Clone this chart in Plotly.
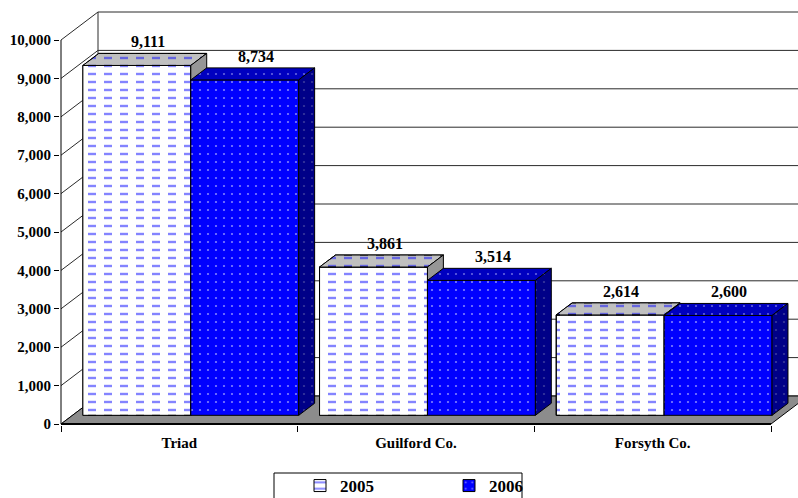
import plotly.graph_objects as go

# ---------------- data ----------------
categories = ["Triad", "Guilford Co.", "Forsyth Co."]
series_names = ["2005", "2006"]
values_2005 = [9111, 3861, 2614]
values_2006 = [8734, 3514, 2600]
y_tick_values = list(range(0, 10001, 1000))
y_tick_labels = [f"{v:,}" for v in y_tick_values]

# ---------------- geometry / style ----------------
FIG_W, FIG_H = 798, 498
M_L, M_R, M_T, M_B = 60, 0, 6, 73
PLOT_W = FIG_W - M_L - M_R
PLOT_H = FIG_H - M_T - M_B
PX_PER_CAT = 236.67
PX_PER_VAL = 0.0384
X_MIN = -0.5 - 1.0 / PX_PER_CAT
X_MAX = X_MIN + PLOT_W / PX_PER_CAT
Y_MIN = -1.0 / PX_PER_VAL
Y_MAX = Y_MIN + PLOT_H / PX_PER_VAL

DX = 37 / PX_PER_CAT          # full depth, category units
DY = 28 / PX_PER_VAL          # full depth, value units
F0, F1 = 0.31, 0.74           # bar front / back depth fractions
BAR_W = 0.456
N = len(categories)
Y_TOP = y_tick_values[-1]
BASE = F0 * DY
DDX = (F1 - F0) * DX
DDY = (F1 - F0) * DY

FONT = "Liberation Serif, Times New Roman, serif"


def px_x(p):
    return (p - M_L) / PLOT_W


def px_y(p):
    return (FIG_H - M_B - p) / PLOT_H


series = [
    dict(name=series_names[0], values=values_2005, offset=-BAR_W,
         front=dict(bg="#FFFFFF", fg="#0A0AFF", shape="-", size=8, sol=0.3, brk="#FFFFFF"),
         top=dict(bg="#C0C0C0", fg="#0A0AFF", shape="-", size=8, sol=0.3, brk="#C0C0C0"),
         side=dict(bg="#969696", fg="#969696", shape="", size=8, sol=0.2, brk=None)),
    dict(name=series_names[1], values=values_2006, offset=0.0,
         front=dict(bg="#0000FF", fg="#FFFFFF", shape=".", size=8, sol=0.06, brk=None),
         top=dict(bg="#0000C0", fg="#C8C8FF", shape=".", size=8, sol=0.06, brk=None),
         side=dict(bg="#000088", fg="#7070B0", shape=".", size=8, sol=0.06, brk=None)),
]

fig = go.Figure()
annotations = []

for k, s in enumerate(series):
    xa = "x" if k == 0 else "x2"
    ya = "y" if k == 0 else "y2"
    xs = [i + F0 * DX for i in range(N)]
    fr = s["front"]
    # front faces (real bars)
    fig.add_trace(go.Bar(
        x=xs, y=s["values"], base=BASE, width=BAR_W, offset=s["offset"],
        name=s["name"], xaxis=xa, yaxis=ya, legendrank=k + 1,
        marker=dict(color=fr["bg"], line=dict(color="#000000", width=1),
                    pattern=dict(shape=fr["shape"], fgcolor=fr["fg"], bgcolor=fr["bg"],
                                 size=fr["size"], solidity=fr["sol"])),
        hoverinfo="skip"))
    if fr["brk"]:
        # breaks the horizontal lines into dashes
        fig.add_trace(go.Bar(
            x=xs, y=s["values"], base=BASE, width=BAR_W, offset=s["offset"],
            showlegend=False, xaxis=xa, yaxis=ya,
            marker=dict(color=fr["brk"], line=dict(color="#000000", width=1),
                        pattern=dict(shape="|", fgcolor=fr["brk"], bgcolor="rgba(0,0,0,0)",
                                     fillmode="replace", size=16, solidity=0.5)),
            hoverinfo="skip"))

    # top and side faces (computed from the values)
    top_x, top_y, side_x, side_y = [], [], [], []
    for i, v in enumerate(s["values"]):
        xl = xs[i] + s["offset"]
        xr = xl + BAR_W
        t = BASE + v
        top_x += [xl, xr, xr + DDX, xl + DDX, xl, None]
        top_y += [t, t, t + DDY, t + DDY, t, None]
        side_x += [xr, xr, xr + DDX, xr + DDX, xr, None]
        side_y += [BASE, t, t + DDY, BASE + DDY, BASE, None]
        annotations.append(dict(
            x=xl + BAR_W / 2 + DDX * 0.7, y=t + DDY, xref="x", yref="y",
            text=f"{v:,}", showarrow=False, yanchor="bottom", yshift=1,
            font=dict(family=FONT, size=16, color="#000000", weight="bold")))

    for face, fx, fy in (("top", top_x, top_y), ("side", side_x, side_y)):
        st = s[face]
        fig.add_trace(go.Scatter(
            x=fx, y=fy, mode="lines", fill="toself", fillcolor=st["bg"],
            fillpattern=dict(shape=st["shape"], fgcolor=st["fg"], bgcolor=st["bg"],
                             size=st["size"], solidity=st["sol"]),
            line=dict(color="#000000", width=1), showlegend=False,
            xaxis=xa, yaxis=ya, hoverinfo="skip"))
        if st["brk"]:
            fig.add_trace(go.Scatter(
                x=fx, y=fy, mode="lines", fill="toself", fillcolor=st["brk"],
                fillpattern=dict(shape="|", fgcolor=st["brk"], bgcolor="rgba(0,0,0,0)",
                                 fillmode="replace", size=16, solidity=0.5),
                line=dict(color="#000000", width=1), showlegend=False,
                xaxis=xa, yaxis=ya, hoverinfo="skip"))

# ---------------- walls, floor, axes lines ----------------
shapes = []
x_front_l, x_front_r = -0.5, N - 0.5
x_back_l = x_front_l + DX
GRID = "#2a2a2a"
for v in y_tick_values:
    shapes.append(dict(type="line", xref="x", yref="y", layer="below",
                       x0=x_back_l, y0=v + DY, x1=X_MAX + 1, y1=v + DY,
                       line=dict(color=GRID, width=1)))
    shapes.append(dict(type="line", xref="x", yref="y", layer="below",
                       x0=x_front_l, y0=v, x1=x_back_l, y1=v + DY,
                       line=dict(color=GRID, width=1)))
shapes.append(dict(type="line", xref="x", yref="y", layer="below",
                   x0=x_back_l, y0=DY, x1=x_back_l, y1=Y_TOP + DY,
                   line=dict(color=GRID, width=1)))
shapes.append(dict(type="path", xref="x", yref="y", layer="below",
                   path=(f"M{x_front_l},0 L{x_front_r},0 L{x_front_r + DX},{DY} "
                         f"L{x_back_l},{DY} Z"),
                   fillcolor="#8C8C8C", line=dict(color="#000000", width=1)))
shapes.append(dict(type="line", xref="x", yref="y", layer="below",
                   x0=x_front_l, y0=0, x1=x_front_r, y1=0,
                   line=dict(color="#000000", width=2)))
shapes.append(dict(type="line", xref="x", yref="y", layer="below",
                   x0=x_front_l, y0=0, x1=x_front_l, y1=Y_TOP,
                   line=dict(color="#000000", width=1)))
# legend frame
shapes.append(dict(type="rect", xref="paper", yref="paper", layer="below",
                   x0=px_x(274), x1=px_x(522), y0=px_y(473), y1=px_y(502),
                   line=dict(color="#000000", width=1), fillcolor="#FFFFFF"))

axis_common = dict(showgrid=False, zeroline=False, showline=False)
fig.update_layout(
    width=FIG_W, height=FIG_H,
    margin=dict(l=M_L, r=M_R, t=M_T, b=M_B, pad=0, autoexpand=False),
    paper_bgcolor="#FFFFFF", plot_bgcolor="rgba(0,0,0,0)",
    barmode="overlay",
    shapes=shapes, annotations=annotations,
    xaxis=dict(range=[X_MIN, X_MAX], tickmode="array", tickvals=list(range(N)),
               ticktext=categories, ticks="", ticklabelstandoff=7,
               tickfont=dict(family=FONT, size=15, color="#000000", weight="bold"),
               minor=dict(tickmode="array", tickvals=[i - 0.5 for i in range(N + 1)],
                          ticks="outside", ticklen=6, tickcolor="#000000", tickwidth=1,
                          showgrid=False),
               **axis_common),
    yaxis=dict(range=[Y_MIN, Y_MAX], tickmode="array", tickvals=y_tick_values,
               ticktext=y_tick_labels, ticks="outside", ticklen=5, tickcolor="#000000",
               tickfont=dict(family=FONT, size=15, color="#000000", weight="bold"),
               **axis_common),
    xaxis2=dict(range=[X_MIN, X_MAX], overlaying="x", visible=False, **axis_common),
    yaxis2=dict(range=[Y_MIN, Y_MAX], overlaying="y", visible=False, **axis_common),
    legend=dict(orientation="h", x=px_x(300), y=px_y(468),
                xanchor="left", yanchor="top", borderwidth=0,
                bgcolor="rgba(0,0,0,0)", entrywidth=104, itemwidth=30,
                font=dict(family=FONT, size=17, color="#000000", weight="bold")),
    showlegend=True,
)

fig.write_html("out.html")
